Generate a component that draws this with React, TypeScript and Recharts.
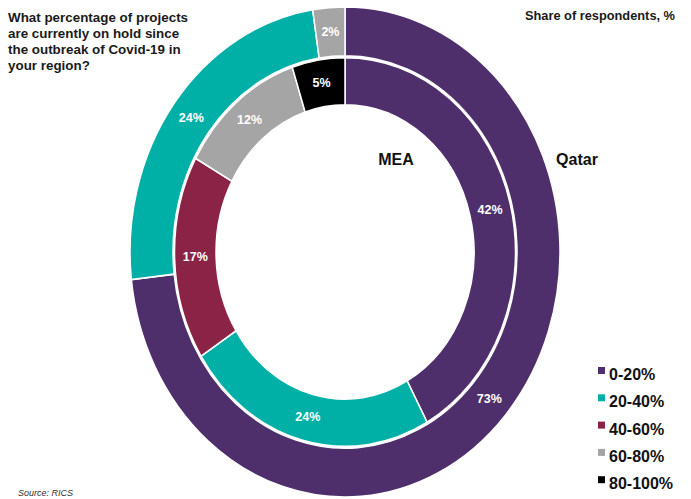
import React from 'react';
import { PieChart, Pie, Cell } from 'recharts';

const categories = ['0-20%', '20-40%', '40-60%', '60-80%', '80-100%'];
const colors = ['#4E2F6B', '#00B0A7', '#8B2346', '#A5A5A5', '#000000'];
const meaValues = [42, 24, 17, 12, 5];
const qatarValues = [73.2, 24.4, 0, 2.4, 0];
const titleLines = [
  'What percentage of projects',
  'are currently on hold since',
  'the outbreak of Covid-19 in',
  'your region?',
];
const subtitle = 'Share of respondents, %';
const innerName = 'MEA';
const outerName = 'Qatar';
const source = 'Source: RICS';

const K = 1.14; // vertical stretch of the ellipse
const CX = 345;
const CY = 252;
const FONT = '"Liberation Sans", Arial, sans-serif';
const RAD = Math.PI / 180;

const build = (vals: number[]) =>
  categories
    .map((name, i) => ({ name, value: vals[i], color: colors[i] }))
    .filter((d) => d.value > 0);

const qatarData = build(qatarValues);
const meaData = build(meaValues);

const renderLabel = (p: any) => {
  const { cx, cy, midAngle, innerRadius, outerRadius, value } = p;
  const r = (innerRadius + outerRadius) / 2;
  const x = cx + r * Math.cos(-midAngle * RAD);
  const y = cy + r * K * Math.sin(-midAngle * RAD);
  return (
    <text
      x={x}
      y={y}
      fill="#ffffff"
      textAnchor="middle"
      dominantBaseline="central"
      style={{ fontFamily: FONT, fontWeight: 700, fontSize: 12.5 }}
    >
      {`${Math.round(value)}%`}
    </text>
  );
};

export default function App() {
  return (
    <div style={{ position: 'absolute', left: 0, top: 0, width: 691, height: 499, background: '#fff', overflow: 'hidden' }}>
      <style>{`.ellipse-wrap .recharts-sector { transform: scaleY(${K}); transform-origin: ${CX}px ${CY}px; }`}</style>
      <div className="ellipse-wrap" style={{ position: 'absolute', left: 0, top: 0 }}>
        <PieChart width={691} height={499} margin={{ top: 0, right: 0, bottom: 0, left: 0 }}>
          <Pie
            data={qatarData}
            dataKey="value"
            nameKey="name"
            cx={CX}
            cy={CY}
            innerRadius={172}
            outerRadius={215}
            startAngle={90}
            endAngle={-270}
            stroke="#ffffff"
            strokeWidth={1.5}
            label={renderLabel}
            labelLine={false}
            isAnimationActive={false}
          >
            {qatarData.map((d) => (
              <Cell key={d.name} fill={d.color} />
            ))}
          </Pie>
          <Pie
            data={meaData}
            dataKey="value"
            nameKey="name"
            cx={CX}
            cy={CY}
            innerRadius={129}
            outerRadius={170.5}
            startAngle={90}
            endAngle={-270}
            stroke="#ffffff"
            strokeWidth={1.5}
            label={renderLabel}
            labelLine={false}
            isAnimationActive={false}
          >
            {meaData.map((d) => (
              <Cell key={d.name} fill={d.color} />
            ))}
          </Pie>
        </PieChart>
      </div>
      <svg
        width={691}
        height={499}
        style={{ position: 'absolute', left: 0, top: 0, pointerEvents: 'none' }}
      >
        <g style={{ fontFamily: FONT, fontWeight: 700, fontSize: 13.4 }} fill="#1a1a1a">
          {titleLines.map((t, i) => (
            <text key={t} x={8} y={22 + i * 16}>
              {t}
            </text>
          ))}
        </g>
        <text
          x={675}
          y={20}
          textAnchor="end"
          style={{ fontFamily: FONT, fontWeight: 700, fontSize: 12.8 }}
          fill="#1a1a1a"
        >
          {subtitle}
        </text>
        <g style={{ fontFamily: FONT, fontWeight: 700, fontSize: 16 }} fill="#111">
          <text x={396} y={165} textAnchor="middle">
            {innerName}
          </text>
          <text x={577} y={165} textAnchor="middle">
            {outerName}
          </text>
        </g>
        <g style={{ fontFamily: FONT, fontWeight: 700, fontSize: 16 }} fill="#111">
          {categories.map((c, i) => (
            <g key={c}>
              <rect x={598} y={372 + i * 27.3 - 5} width={7} height={7} fill={colors[i]} />
              <text x={609} y={380 + i * 27.3}>
                {c}
              </text>
            </g>
          ))}
        </g>
        <text
          x={18}
          y={496}
          style={{ fontFamily: FONT, fontStyle: 'italic', fontSize: 9 }}
          fill="#333"
        >
          {source}
        </text>
      </svg>
    </div>
  );
}
